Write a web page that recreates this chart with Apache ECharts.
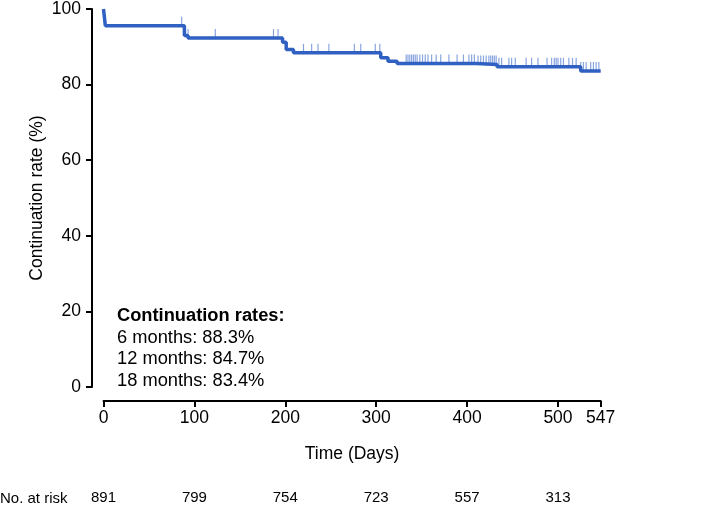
<!DOCTYPE html>
<html>
<head>
<meta charset="utf-8">
<script src="https://cdn.jsdelivr.net/npm/echarts@6/dist/echarts.min.js"></script>
<style>html,body{margin:0;padding:0;background:#fff}#c{width:723px;height:505px}</style>
</head>
<body>
<div id="c"></div>
<script>
// Kaplan-Meier step points: [day, continuation rate %]
var stepDays   = [0,   2,    89,   93,   197,  201,  209,  305,  313,  323,  410,  433,  525,  547];
var stepValues = [100, 95.6, 93.0, 92.3, 91.2, 89.3, 88.4, 87.1, 86.2, 85.6, 85.3, 84.7, 83.6, 83.6];
// censoring times (days)
var censorDays = [86, 93, 123, 187, 192, 220, 229, 236, 248, 276, 283, 299, 304,
  333, 335, 337, 339, 341, 343, 345, 348, 351, 354, 357, 361, 366, 371, 380, 389,
  396, 402, 405, 408, 412, 415, 418, 421, 424, 426, 428, 430, 432, 435, 438,
  446, 449, 453, 465, 471, 478, 488, 493, 496, 498, 500, 503, 506, 512, 516, 520,
  525, 528, 531, 536, 539, 542, 545];
var xTicks = [0, 100, 200, 300, 400, 500, 547];
var atRiskDays = [0, 100, 200, 300, 400, 500];
var atRisk = [891, 799, 754, 723, 557, 313];
var rateLines = ['Continuation rates:', '6 months: 88.3%', '12 months: 84.7%', '18 months: 83.4%'];

var FONT = 'Liberation Sans, Arial, Helvetica, sans-serif';
var LINE = '#2f60c2';
var TICK = '#6a8fd8';

function rateAt(d) {
  var v = stepValues[0];
  for (var i = 0; i < stepDays.length; i++) { if (stepDays[i] <= d) v = stepValues[i]; }
  return v;
}
var curve = stepDays.map(function (d, i) { return [d, stepValues[i]]; });
var censor = censorDays.map(function (d) { return [d, rateAt(d)]; });
var riskMap = {};
atRiskDays.forEach(function (d, i) { riskMap[d] = atRisk[i]; });

var chart = echarts.init(document.getElementById('c'), null, {renderer: 'canvas'});
chart.setOption({
  animation: false,
  backgroundColor: '#fff',
  grid: {left: 103.5, right: 122.3, top: 8, bottom: 113.5, containLabel: false},
  xAxis: [{
    type: 'value', min: 0, max: 547, offset: 14,
    name: 'Time (Days)', nameLocation: 'middle', nameGap: 44, nameMoveOverlap: false,
    nameTextStyle: {fontFamily: FONT, fontSize: 17.5, color: '#000'},
    axisLine: {show: true, onZero: false, lineStyle: {color: '#000', width: 2}},
    axisTick: {show: true, length: 6, lineStyle: {color: '#000', width: 2}, customValues: xTicks},
    axisLabel: {fontFamily: FONT, fontSize: 17.5, color: '#000', margin: 8, customValues: xTicks},
    splitLine: {show: false}
  }, {
    type: 'value', min: 0, max: 547, position: 'bottom', offset: 103,
    axisLine: {show: false, onZero: false}, axisTick: {show: false}, splitLine: {show: false},
    axisLabel: {fontFamily: FONT, fontSize: 15, color: '#000', margin: 0, customValues: atRiskDays,
      formatter: function (v) { return riskMap[v] !== undefined ? String(riskMap[v]) : ''; }}
  }],
  yAxis: {
    type: 'value', min: 0, max: 100, interval: 20, offset: 11.5,
    name: 'Continuation rate (%)', nameLocation: 'middle', nameGap: 46, nameMoveOverlap: false,
    nameTextStyle: {fontFamily: FONT, fontSize: 17.5, color: '#000'},
    axisLine: {show: true, onZero: false, lineStyle: {color: '#000', width: 2}},
    axisTick: {show: true, length: 6, lineStyle: {color: '#000', width: 2}},
    axisLabel: {fontFamily: FONT, fontSize: 17.5, color: '#000', margin: 11},
    splitLine: {show: false}
  },
  series: [{
    type: 'line', step: 'end', data: curve, showSymbol: false, symbol: 'none',
    lineStyle: {color: LINE, width: 3.5}, z: 3
  }, {
    type: 'scatter', data: censor, symbol: 'rect', symbolSize: [1.2, 9], symbolOffset: [0, -4.5],
    itemStyle: {color: TICK}, z: 2
  }],
  graphic: [{
    type: 'text', left: 0, top: 491,
    style: {text: 'No. at risk', fontFamily: FONT, fontSize: 15, fill: '#000'}
  }].concat(rateLines.map(function (t, i) {
    return {
      type: 'text', left: 117, top: 307 + i * 21.7,
      style: {text: t, fontFamily: FONT, fontSize: 18.3, fontWeight: i === 0 ? 'bold' : 'normal', fill: '#000'}
    };
  }))
});
</script>
</body>
</html>
